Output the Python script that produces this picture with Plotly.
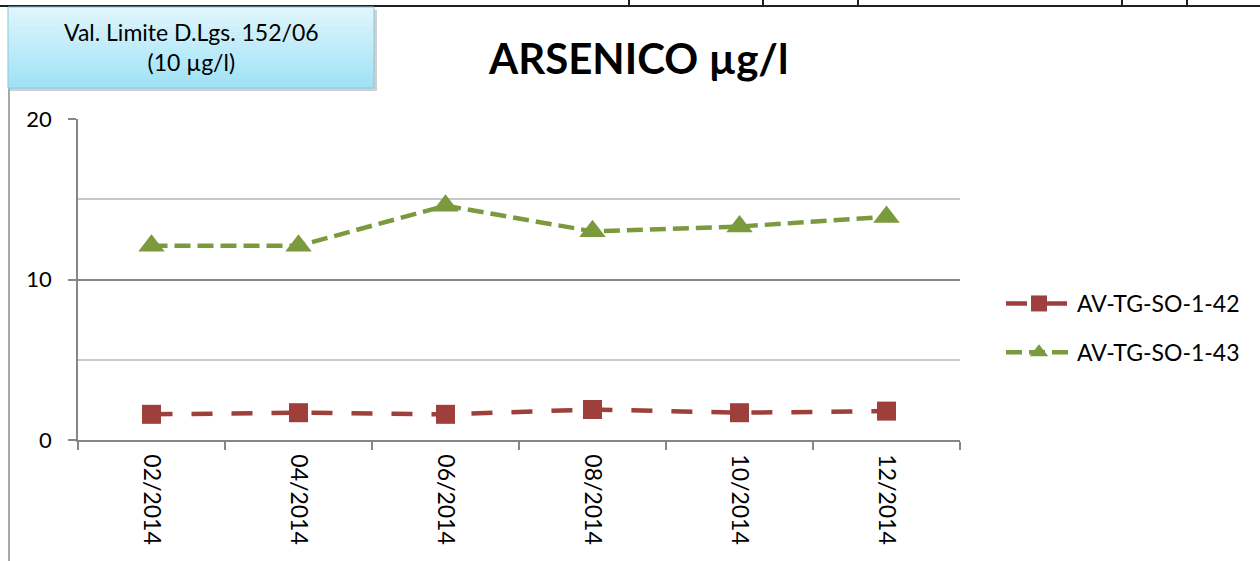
import plotly.graph_objects as go

# ---- data ----
dates = ["02/2014", "04/2014", "06/2014", "08/2014", "10/2014", "12/2014"]
s42_name = "AV-TG-SO-1-42"
s42_vals = [1.6, 1.7, 1.6, 1.9, 1.7, 1.8]
s43_name = "AV-TG-SO-1-43"
s43_vals = [12.1, 12.1, 14.6, 13.0, 13.3, 13.9]
y_ticks = [0, 10, 20]
title_text = "ARSENICO µg/l"
box_text = "Val. Limite D.Lgs. 152/06<br>(10 µg/l)"

W, H = 1260, 561
L, R, T, B = 78, 960, 119, 440
FONT = "Lato, Carlito, Calibri, sans-serif"

def px(x):
    return (x - L) / (R - L)

def py(y):
    return (B - y) / (B - T)

RED = "#9e3f3c"
GREEN = "#7b9a3e"

fig = go.Figure()
fig.add_trace(go.Scatter(
    x=dates, y=s42_vals, name=s42_name, mode="lines+markers",
    line=dict(color=RED, width=4.5, dash="21px,19px"),
    marker=dict(symbol="square", size=19, color=RED),
    legendgroup="a",
))
fig.add_trace(go.Scatter(
    x=dates, y=s43_vals, name=s43_name, mode="lines+markers",
    line=dict(color=GREEN, width=4.5, dash="16px,7px"),
    marker=dict(symbol="triangle-up", size=23, color=GREEN),
    legendgroup="b",
))

shapes = []
# top table border line and cell separators
shapes.append(dict(type="line", xref="paper", yref="paper", x0=px(0), x1=px(1260), y0=py(6), y1=py(6),
                   line=dict(color="#202020", width=2)))
for xv in [629, 763, 858, 1122, 1187]:
    shapes.append(dict(type="line", xref="paper", yref="paper", x0=px(xv), x1=px(xv), y0=py(0), y1=py(6),
                       line=dict(color="#202020", width=2)))
# left chart frame border
shapes.append(dict(type="line", xref="paper", yref="paper", x0=px(9), x1=px(9), y0=py(86), y1=py(561),
                   line=dict(color="#8c8c8c", width=1.5)))
# box shadow
shapes.append(dict(type="rect", xref="paper", yref="paper", x0=px(10), x1=px(377), y0=py(10), y1=py(91),
                   fillcolor="rgba(120,120,120,0.35)", line=dict(width=0), layer="above"))
# gradient box
bx0, bx1, by0, by1 = 8, 374, 7, 88
n = 16
c_top = (224, 246, 252)
c_bot = (160, 226, 246)
for i in range(n):
    t = i / (n - 1)
    c = tuple(int(c_top[k] + (c_bot[k] - c_top[k]) * t) for k in range(3))
    ya = by0 + (by1 - by0) * i / n
    yb = by0 + (by1 - by0) * (i + 1) / n
    shapes.append(dict(type="rect", xref="paper", yref="paper", x0=px(bx0), x1=px(bx1), y0=py(ya), y1=py(yb + 0.5),
                       fillcolor="rgb(%d,%d,%d)" % c, line=dict(width=0), layer="above"))
shapes.append(dict(type="rect", xref="paper", yref="paper", x0=px(bx0), x1=px(bx1), y0=py(by0), y1=py(by1),
                   fillcolor="rgba(0,0,0,0)", line=dict(color="#86c9de", width=1), layer="above"))

fig.update_layout(
    width=W, height=H,
    margin=dict(l=L, r=W - R, t=T, b=H - B),
    paper_bgcolor="white", plot_bgcolor="white",
    font=dict(family=FONT, color="#000000"),
    shapes=shapes,
    showlegend=True,
    legend=dict(
        x=px(1001), y=py(328), xanchor="left", yanchor="middle",
        font=dict(size=23, family=FONT), itemwidth=66, tracegroupgap=16,
        bgcolor="rgba(0,0,0,0)",
    ),
    annotations=[
        dict(text=title_text, x=px(638), y=py(58), xref="paper", yref="paper", showarrow=False,
             font=dict(size=42, family=FONT, color="#000000", weight="bold"), xanchor="center", yanchor="middle"),
        dict(text=box_text, x=px(191), y=py(47), xref="paper", yref="paper", showarrow=False,
             font=dict(size=23, family=FONT, color="#000000"), xanchor="center", yanchor="middle"),
    ],
    xaxis=dict(
        type="category", range=[-0.5, 5.5], tickson="boundaries",
        ticks="outside", ticklen=8, tickcolor="#868686", tickwidth=1.5,
        showline=True, linecolor="#868686", linewidth=1.5,
        showgrid=False, tickangle=90, ticklabelstandoff=8,
        tickfont=dict(size=23, family=FONT),
    ),
    yaxis=dict(
        range=[0, 20], tickvals=y_ticks, ticks="outside", ticklen=8, tickcolor="#868686", tickwidth=1.5,
        showline=True, linecolor="#868686", linewidth=1.5,
        showgrid=True, gridcolor="#868686", gridwidth=1.5, zeroline=False,
        minor=dict(dtick=5, tick0=0, showgrid=True, gridcolor="#c8c8c8", gridwidth=1.5, ticks=""),
        ticklabelstandoff=12,
        tickfont=dict(size=22, family=FONT),
    ),
)

fig.write_html("out.html", config={"displayModeBar": False},
               post_script="document.body.style.margin='0px';")
